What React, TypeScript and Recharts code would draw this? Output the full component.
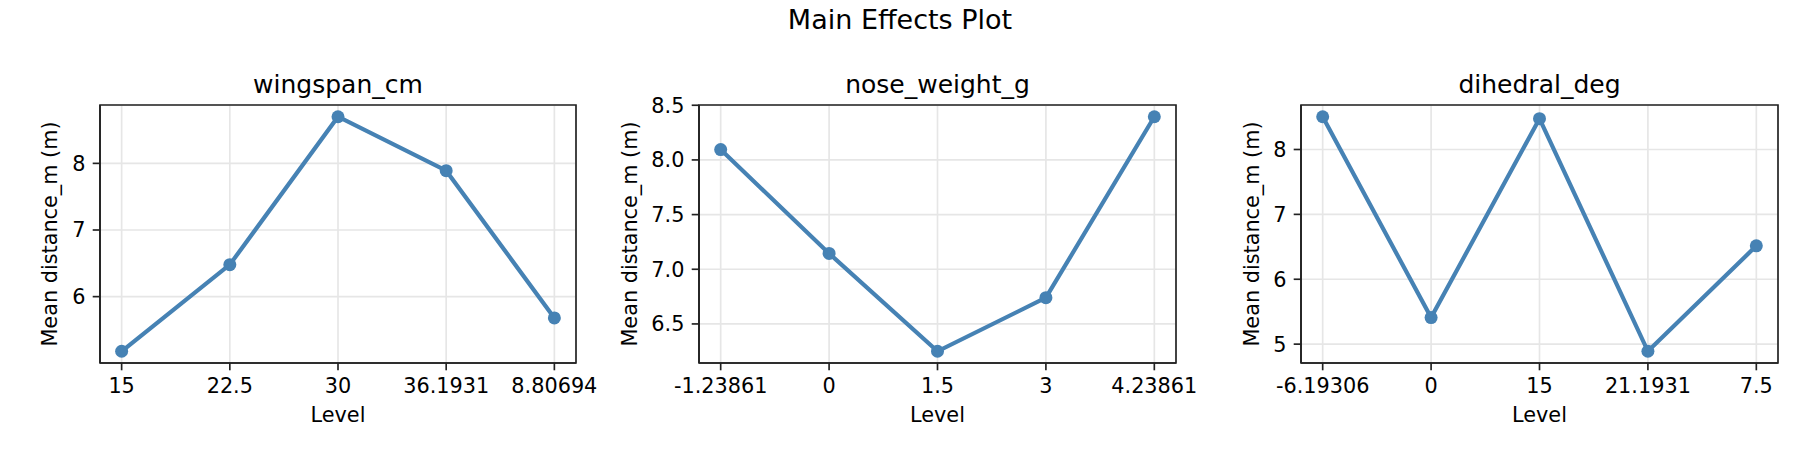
import { CartesianGrid, Line, LineChart, ReferenceArea, XAxis, YAxis } from 'recharts';

const FONT = '"DejaVu Sans", sans-serif';
const BLUE = '#4682b4';
const INK = '#222';
const GRID = '#e6e6e6';

const SUPTITLE = 'Main Effects Plot';
const Y_LABEL = 'Mean distance_m (m)';
const X_LABEL = 'Level';

const wingspanLevels = ['15', '22.5', '30', '36.1931', '8.80694'];
const wingspanMeans = [5.18, 6.48, 8.7, 7.89, 5.68];
const wingspanTicks = [6, 7, 8];

const noseLevels = ['-1.23861', '0', '1.5', '3', '4.23861'];
const noseMeans = [8.095, 7.145, 6.25, 6.74, 8.395];
const noseTicks = [6.5, 7.0, 7.5, 8.0, 8.5];

const dihedralLevels = ['-6.19306', '0', '15', '21.1931', '7.5'];
const dihedralMeans = [8.505, 5.41, 8.475, 4.89, 6.515];
const dihedralTicks = [5, 6, 7, 8];

type PanelProps = {
  title: string;
  levels: string[];
  means: number[];
  yTicks: number[];
  decimals: number;
  left: number;
  axisWidth: number;
  rightGap: number;
  labelOffset: number;
};

const tickText = { fill: '#000', fontSize: 20.8 };
const lineStyle = { stroke: INK, strokeWidth: 1.67 };

function EffectPanel({ title, levels, means, yTicks, decimals, left, axisWidth, rightGap, labelOffset }: PanelProps) {
  const data = levels.map((level, i) => ({ idx: i, level, mean: means[i] }));
  // matplotlib-style 5% margins
  const lo = Math.min(...means);
  const hi = Math.max(...means);
  const pad = (hi - lo) * 0.05;
  const xPad = (levels.length - 1) * 0.05;
  const xDomain = [-xPad, levels.length - 1 + xPad];
  const yDomain = [lo - pad, hi + pad];
  const plotCenter = axisWidth + (600 - axisWidth - rightGap) / 2;

  return (
    <div style={{ position: 'absolute', left, top: 0, width: 600, height: 450 }}>
      <div
        style={{
          position: 'absolute',
          top: 72,
          left: plotCenter - 200,
          width: 400,
          textAlign: 'center',
          fontSize: 25,
          lineHeight: '25px',
          color: '#000',
        }}
      >
        {title}
      </div>
      <LineChart width={600} height={450} data={data} margin={{ top: 105, right: rightGap, bottom: 0, left: 0 }}>
        <CartesianGrid stroke={GRID} strokeWidth={1.67} />
        <XAxis
          dataKey="idx"
          type="number"
          domain={xDomain}
          ticks={data.map((d) => d.idx)}
          interval={0}
          tickFormatter={(v: number) => levels[v]}
          height={87}
          tick={tickText}
          tickLine={lineStyle}
          axisLine={lineStyle}
          tickSize={7.3}
          tickMargin={8.2}
          label={{ value: X_LABEL, position: 'insideBottom', offset: 27.7, fontSize: 20.8, fill: '#000' }}
        />
        <YAxis
          type="number"
          domain={yDomain}
          ticks={yTicks}
          tickFormatter={(v: number) => v.toFixed(decimals)}
          width={axisWidth}
          tick={tickText}
          tickLine={lineStyle}
          axisLine={lineStyle}
          tickSize={7.3}
          tickMargin={7.3}
          label={{
            value: Y_LABEL,
            angle: -90,
            position: 'insideLeft',
            offset: labelOffset,
            fontSize: 20.8,
            fill: '#000',
            style: { textAnchor: 'middle' },
          }}
        />
        <Line
          type="linear"
          dataKey="mean"
          stroke={BLUE}
          strokeWidth={4.2}
          dot={{ r: 6.5, fill: BLUE, stroke: BLUE, strokeWidth: 0 }}
          activeDot={false}
          isAnimationActive={false}
        />
        {/* axes frame (top/right spines) */}
        <ReferenceArea
          x1={xDomain[0]}
          x2={xDomain[1]}
          y1={yDomain[0]}
          y2={yDomain[1]}
          fill="none"
          fillOpacity={0}
          stroke={INK}
          strokeWidth={1.67}
          ifOverflow="visible"
        />
      </LineChart>
    </div>
  );
}

export default function App() {
  return (
    <div
      style={{
        position: 'absolute',
        left: 0,
        top: 0,
        width: 1800,
        height: 450,
        background: '#fff',
        fontFamily: FONT,
      }}
    >
      <div
        style={{
          position: 'absolute',
          top: 6.2,
          left: 0,
          width: 1800,
          textAlign: 'center',
          fontSize: 27,
          lineHeight: '27px',
          color: '#000',
        }}
      >
        {SUPTITLE}
      </div>
      <EffectPanel
        title="wingspan_cm"
        levels={wingspanLevels}
        means={wingspanMeans}
        yTicks={wingspanTicks}
        decimals={0}
        left={0}
        axisWidth={100}
        rightGap={24}
        labelOffset={50}
      />
      <EffectPanel
        title="nose_weight_g"
        levels={noseLevels}
        means={noseMeans}
        yTicks={noseTicks}
        decimals={1}
        left={600}
        axisWidth={99}
        rightGap={24}
        labelOffset={29.5}
      />
      <EffectPanel
        title="dihedral_deg"
        levels={dihedralLevels}
        means={dihedralMeans}
        yTicks={dihedralTicks}
        decimals={0}
        left={1200}
        axisWidth={101}
        rightGap={22}
        labelOffset={52}
      />
    </div>
  );
}
